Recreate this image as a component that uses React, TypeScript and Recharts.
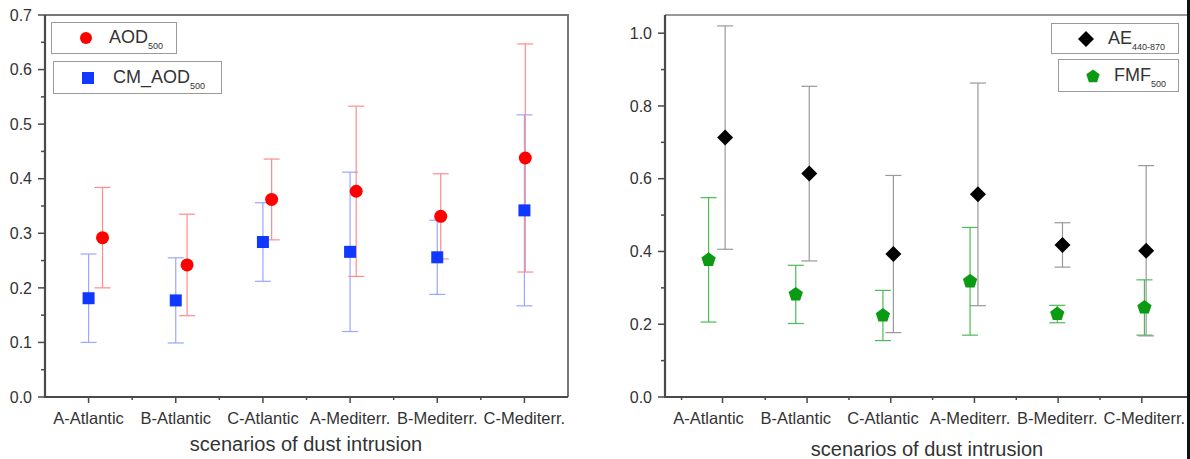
import React from "react";
import { ScatterChart, Scatter, XAxis, YAxis, ErrorBar } from "recharts";

const categories = ["A-Atlantic", "B-Atlantic", "C-Atlantic", "A-Mediterr.", "B-Mediterr.", "C-Mediterr."];
const categoryX = [1, 2, 3, 4, 5, 6];

// left panel: aerosol optical depth
const aod500X = [1.16, 2.13, 3.1, 4.07, 5.04, 6.01];
const aod500 = [0.292, 0.242, 0.362, 0.377, 0.331, 0.438];
const aod500Err = [0.092, 0.093, 0.074, 0.156, 0.078, 0.209];
const cmAod500 = [0.181, 0.177, 0.284, 0.266, 0.256, 0.342];
const cmAod500Err = [0.081, 0.078, 0.072, 0.146, 0.068, 0.175];
const leftYTicks = [0, 0.05, 0.1, 0.15, 0.2, 0.25, 0.3, 0.35, 0.4, 0.45, 0.5, 0.55, 0.6, 0.65, 0.7];
const leftXMajor = [1, 2, 3, 4, 5, 6];
const leftXMinor = [1.5, 2.5, 3.5, 4.5, 5.5];

// right panel: angstrom exponent and fine mode fraction
const ae440870X = [1.19, 2.155, 3.12, 4.09, 5.06, 6.02];
const ae440870 = [0.713, 0.614, 0.393, 0.557, 0.418, 0.402];
const ae440870Err = [0.307, 0.24, 0.216, 0.306, 0.061, 0.234];
const fmf500 = [0.377, 0.282, 0.224, 0.318, 0.228, 0.246];
const fmf500Err = [0.171, 0.08, 0.069, 0.148, 0.024, 0.076];
const rightYTicks = [0, 0.1, 0.2, 0.3, 0.4, 0.5, 0.6, 0.7, 0.8, 0.9, 1.0];
const rightYMajor = [0, 0.2, 0.4, 0.6, 0.8, 1.0];
const rightXMajor = [1.16, 2.13, 3.09, 4.05, 5.01, 5.97];
const rightXMinor = [0.69, 1.65, 2.61, 3.57, 4.53, 5.49];

const FONT = "'Liberation Sans', Arial, Helvetica, sans-serif";
const AXIS = "#4a4a4a";
const X_DOMAIN = [0.5, 6.5];

const toPoints = (xs: number[], ys: number[], errs: number[]) =>
  xs.map((x, i) => ({ x, y: ys[i], err: errs[i] }));

const isIn = (list: number[], v: number) => list.some((m) => Math.abs(m - v) < 1e-6);

const yTick = (majors: (v: number) => boolean) => (props: any) => {
  const { x, y, payload } = props;
  const major = majors(payload.value);
  return (
    <g>
      <line x1={x - (major ? 7 : 4)} x2={x} y1={y} y2={y} stroke={AXIS} strokeWidth={1.5} />
      {major && (
        <text x={x - 13} y={y} dy="0.36em" textAnchor="end" fontSize={16} fontFamily={FONT} fill="#333">
          {payload.value.toFixed(1)}
        </text>
      )}
    </g>
  );
};

const xLabel = (props: any) => {
  const { x, y, payload } = props;
  return (
    <text x={x} y={y} dy="0.71em" textAnchor="middle" fontSize={16.5} fontFamily={FONT} fill="#333">
      {categories[Math.round(payload.value) - 1]}
    </text>
  );
};

const circleShape = (p: any) => <circle cx={p.cx} cy={p.cy} r={6.5} fill="#ff0000" />;
const squareShape = (p: any) => <rect x={p.cx - 6} y={p.cy - 6} width={12} height={12} fill="#1038ff" />;
const diamondShape = (p: any) => (
  <polygon
    points={`${p.cx},${p.cy - 8} ${p.cx + 8},${p.cy} ${p.cx},${p.cy + 8} ${p.cx - 8},${p.cy}`}
    fill="#000"
  />
);
const pentagonPoints = (cx: number, cy: number, r: number) =>
  [0, 1, 2, 3, 4]
    .map((k) => {
      const a = -Math.PI / 2 + (k * 2 * Math.PI) / 5;
      return `${cx + r * Math.cos(a)},${cy + r * Math.sin(a)}`;
    })
    .join(" ");
const pentagonShape = (p: any) => <polygon points={pentagonPoints(p.cx, p.cy, 7.5)} fill="#0a9a14" />;
const noShape = () => <g />;
const tickShape = (p: any) => (
  <line x1={p.cx} x2={p.cx} y1={p.cy} y2={p.cy + (p.payload.major ? 6 : 3)} stroke={AXIS} strokeWidth={1.5} />
);

// axes, Origin style box and x tick marks, all placed through the chart's scales
function Axes({ domainY, yTicks, majorY, xMajor, xMinor, yWidth, rightColor, rightWidth }: any) {
  const [x0, x1] = X_DOMAIN;
  const [y0, y1] = domainY;
  const marks = [
    ...xMajor.map((x: number) => ({ x, y: y0, major: true })),
    ...xMinor.map((x: number) => ({ x, y: y0, major: false })),
  ];
  return [
    <XAxis
      key="x"
      xAxisId="x"
      type="number"
      dataKey="x"
      domain={X_DOMAIN}
      ticks={categoryX}
      interval={0}
      height={62}
      tickSize={0}
      tickMargin={15}
      tickLine={false}
      axisLine={false}
      tick={xLabel}
    />,
    <YAxis
      key="y"
      yAxisId="y"
      type="number"
      dataKey="y"
      domain={domainY}
      ticks={yTicks}
      interval={0}
      width={yWidth}
      tickSize={0}
      tickMargin={0}
      tickLine={false}
      axisLine={false}
      tick={yTick(majorY)}
    />,
    <Scatter
      key="frame-tr"
      data={[{ x: x0, y: y1 }, { x: x1, y: y1 }, { x: x1, y: y0 }]}
      xAxisId="x"
      yAxisId="y"
      line={{ stroke: rightColor, strokeWidth: rightWidth }}
      lineType="joint"
      shape={noShape}
      legendType="none"
      isAnimationActive={false}
    />,
    <Scatter
      key="frame-lb"
      data={[{ x: x0, y: y1 }, { x: x0, y: y0 }, { x: x1, y: y0 }]}
      xAxisId="x"
      yAxisId="y"
      line={{ stroke: AXIS, strokeWidth: 2.2 }}
      lineType="joint"
      shape={noShape}
      legendType="none"
      isAnimationActive={false}
    />,
    <Scatter key="marks" data={marks} xAxisId="x" yAxisId="y" shape={tickShape} legendType="none" isAnimationActive={false} />,
  ];
}

function LegendBox({ left, top, width, height, marker, label, sub, textLeft }: any) {
  return (
    <div
      style={{
        position: "absolute",
        left,
        top,
        width,
        height,
        boxSizing: "border-box",
        border: "1.5px solid #9a9a9a",
        background: "#fff",
        fontFamily: FONT,
      }}
    >
      <svg width={20} height={20} style={{ position: "absolute", left: 24, top: height / 2 - 11 }}>
        {marker}
      </svg>
      <div
        style={{
          position: "absolute",
          left: textLeft,
          top: height / 2 - 13,
          fontSize: 18,
          lineHeight: "22px",
          color: "#333",
          whiteSpace: "nowrap",
        }}
      >
        {label}
        <sub style={{ fontSize: 9, verticalAlign: "-6px" }}>{sub}</sub>
      </div>
    </div>
  );
}

const titleStyle: React.CSSProperties = {
  position: "absolute",
  fontFamily: FONT,
  fontSize: 20,
  color: "#333",
  whiteSpace: "nowrap",
  transform: "translateX(-50%)",
};

export default function App() {
  const cmPts = toPoints(categoryX, cmAod500, cmAod500Err);
  const aodPts = toPoints(aod500X, aod500, aod500Err);
  const fmfPts = toPoints(categoryX, fmf500, fmf500Err);
  const aePts = toPoints(ae440870X, ae440870, ae440870Err);

  return (
    <div style={{ position: "absolute", left: 0, top: 0, width: 1190, height: 459, background: "#fff", overflow: "hidden" }}>
      <div style={{ position: "absolute", left: 0, top: 0, width: 600, height: 459 }}>
        <ScatterChart width={600} height={459} margin={{ top: 15, right: 32, bottom: 0, left: 0 }}>
          {Axes({
            domainY: [0, 0.7],
            yTicks: leftYTicks,
            majorY: (v: number) => Math.abs(v * 10 - Math.round(v * 10)) < 1e-6,
            xMajor: leftXMajor,
            xMinor: leftXMinor,
            yWidth: 45,
            rightColor: "#777",
            rightWidth: 2,
          })}
          <Scatter name="CM_AOD500" data={cmPts} xAxisId="x" yAxisId="y" shape={squareShape} isAnimationActive={false}>
            <ErrorBar dataKey="err" direction="y" width={8} stroke="#9aa6ff" strokeWidth={1.2} />
          </Scatter>
          <Scatter name="AOD500" data={aodPts} xAxisId="x" yAxisId="y" shape={circleShape} isAnimationActive={false}>
            <ErrorBar dataKey="err" direction="y" width={8} stroke="#ff8c8c" strokeWidth={1.2} />
          </Scatter>
        </ScatterChart>
        <div style={{ ...titleStyle, left: 306, top: 433 }}>scenarios of dust intrusion</div>
        <LegendBox
          left={51}
          top={22}
          width={126}
          height={32}
          textLeft={57}
          label="AOD"
          sub="500"
          marker={<circle cx={10} cy={10} r={6} fill="#ff0000" />}
        />
        <LegendBox
          left={53}
          top={61}
          width={169}
          height={33}
          textLeft={59}
          label="CM_AOD"
          sub="500"
          marker={<rect x={4} y={4} width={12} height={12} fill="#1038ff" />}
        />
      </div>

      <div style={{ position: "absolute", left: 600, top: 0, width: 590, height: 459 }}>
        <ScatterChart width={590} height={459} margin={{ top: 15, right: 2, bottom: 0, left: 0 }}>
          {Axes({
            domainY: [0, 1.05],
            yTicks: rightYTicks,
            majorY: (v: number) => isIn(rightYMajor, v),
            xMajor: rightXMajor,
            xMinor: rightXMinor,
            yWidth: 65,
            rightColor: "#777",
            rightWidth: 1.5,
          })}
          <Scatter name="FMF500" data={fmfPts} xAxisId="x" yAxisId="y" shape={pentagonShape} isAnimationActive={false}>
            <ErrorBar dataKey="err" direction="y" width={8} stroke="#4cbb55" strokeWidth={1.2} />
          </Scatter>
          <Scatter name="AE440-870" data={aePts} xAxisId="x" yAxisId="y" shape={diamondShape} isAnimationActive={false}>
            <ErrorBar dataKey="err" direction="y" width={8} stroke="#999" strokeWidth={1.2} />
          </Scatter>
        </ScatterChart>
        <div style={{ ...titleStyle, left: 327, top: 438 }}>scenarios of dust intrusion</div>
        <LegendBox
          left={451}
          top={23}
          width={128}
          height={31}
          textLeft={56}
          label="AE"
          sub="440-870"
          marker={<polygon points="10,2 18,10 10,18 2,10" fill="#000" />}
        />
        <LegendBox
          left={458}
          top={59}
          width={121}
          height={33}
          textLeft={55}
          label="FMF"
          sub="500"
          marker={<polygon points={pentagonPoints(10, 10.5, 7)} fill="#0a9a14" />}
        />
      </div>
      <div style={{ position: "absolute", left: 1187, top: 0, width: 3, height: 459, background: "#111" }} />
    </div>
  );
}
